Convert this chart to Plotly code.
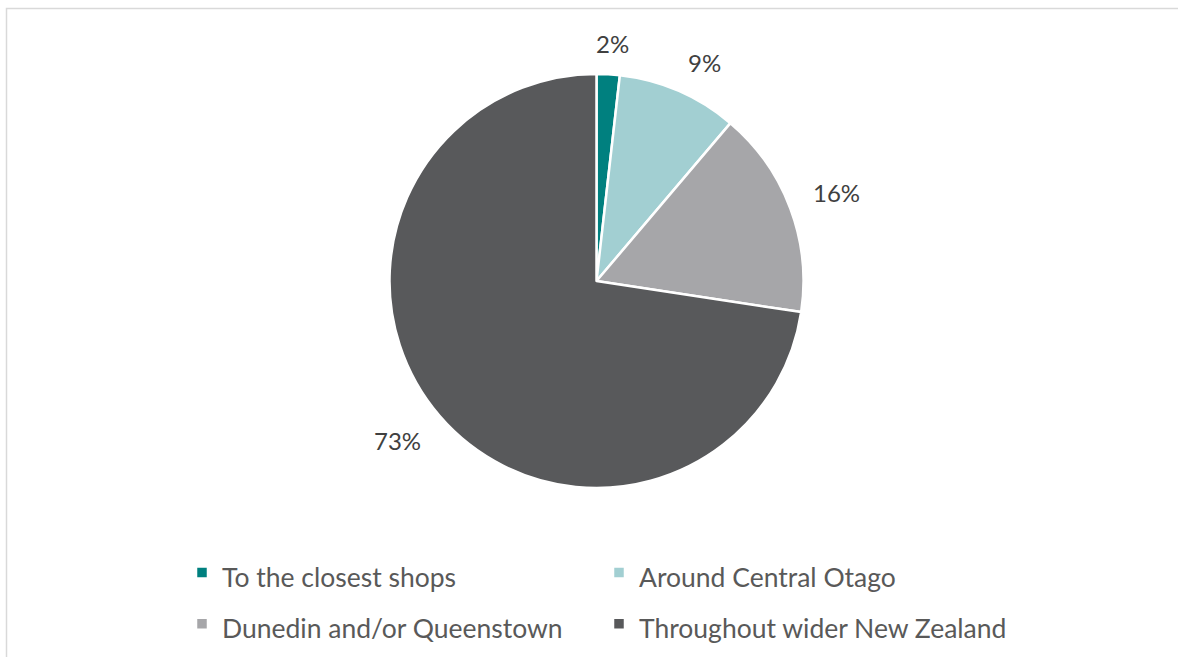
import math
import plotly.graph_objects as go

categories = ["To the closest shops", "Around Central Otago",
              "Dunedin and/or Queenstown", "Throughout wider New Zealand"]
values = [1.8, 9.4, 16.2, 72.6]
colors = ["#00807F", "#A2CFD2", "#A6A6A9", "#58595B"]

W, H = 1178, 657
FONT = "Lato, 'Liberation Sans', sans-serif"

# pie geometry (pixels)
CX, CY, R = 596.5, 281.0, 207.0
LABEL_SIZE = 24

fig = go.Figure(go.Pie(
    labels=[f'<span style="font-size:26.5px">{c}</span>' for c in categories],
    values=values,
    sort=False,
    direction="clockwise",
    rotation=0,
    marker=dict(colors=colors, line=dict(color="white", width=2.5)),
    textinfo="none",
    hoverinfo="label+percent",
    domain=dict(x=[(CX - 300) / W, (CX + 300) / W],
                y=[1 - (CY + R) / H, 1 - (CY - R) / H]),
))


def clamp(v):
    return max(-1.0, min(1.0, v))


# data labels placed just outside each slice (Excel "best fit" style)
total = sum(values)
annotations = []
cum = 0.0
for v in values:
    mid = (cum + v / 2) / total * 2 * math.pi
    cum += v
    txt = f"{math.floor(v / total * 100 + 0.5)}%"
    dx, dy = math.sin(mid), -math.cos(mid)
    hx = len(txt) * 8.2
    hy = 8.5
    gap = 23
    px = CX + (R + gap) * dx + hx * clamp(3 * dx)
    py = CY + (R + gap) * dy + hy * clamp(3 * dy) + 1
    annotations.append(dict(
        x=px / W, y=1 - py / H, xref="paper", yref="paper",
        text=txt, showarrow=False, xanchor="center", yanchor="middle",
        font=dict(size=LABEL_SIZE, color="#404040", family=FONT),
    ))

fig.update_layout(
    width=W, height=H,
    margin=dict(l=0, r=0, t=0, b=0, autoexpand=False),
    paper_bgcolor="white",
    plot_bgcolor="white",
    font=dict(family=FONT, color="#595959"),
    showlegend=True,
    annotations=annotations,
    legend=dict(
        orientation="h",
        xref="container", yref="container",
        x=182 / W, xanchor="left",
        y=1 - 542 / H, yanchor="top",
        entrywidth=372, entrywidthmode="pixels",
        font=dict(size=37, color="#595959", family=FONT),
        traceorder="normal",
        bgcolor="rgba(0,0,0,0)",
    ),
    shapes=[dict(type="rect", xref="paper", yref="paper",
                 x0=6.5 / W, x1=1.02, y0=-0.02, y1=1 - 8.5 / H,
                 line=dict(color="#D9D9D9", width=1.5), layer="below")],
)

fig.write_html("out.html")
